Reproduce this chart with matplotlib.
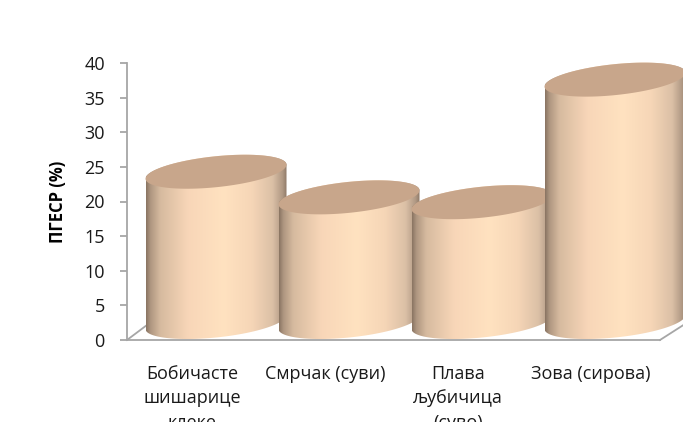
import numpy as np
import matplotlib
matplotlib.use('Agg')
import matplotlib.pyplot as plt
from matplotlib.colors import LinearSegmentedColormap
from matplotlib.patches import Polygon

plt.rcParams['font.family'] = ['Open Sans', 'DejaVu Sans']

categories = ['Бобичасте\nшишарице\nклеке', 'Смрчак (суви)', 'Плава\nљубичица\n(суво)', 'Зова (сирова)']
values = [21.7, 18.0, 17.3, 35.0]
y_ticks = [0, 5, 10, 15, 20, 25, 30, 35, 40]

W, H = 683, 422
# 0 of the axis at y=340px, 40 at y=63px, first bar centre at x=216px, spacing 133px
px_x = 133.0
px_y = (340 - 63) / 40.0
left, right = 127, 660

fig = plt.figure(figsize=(W / 100, H / 100), dpi=100)
ax = fig.add_axes([left / W, (H - 340) / H, (right - left) / W, (340 - 63) / H])
ax.set_xlim((left - 216) / px_x, (right - 216) / px_x)
ax.set_ylim(0, 40)

shade = LinearSegmentedColormap.from_list('shade', [
    (0.0, '#8a7563'), (0.03, '#ae9680'), (0.1, '#d6ba9f'), (0.3, '#f8d6b8'),
    (0.55, '#ffe2c0'), (0.75, '#f6d6b7'), (0.9, '#dbc0a6'), (0.97, '#b09984'), (1.0, '#8f7a68')])
grad = np.linspace(0, 1, 256).reshape(1, -1)

half_w = 70.5 / px_x
minor = 15.5 / px_y
tilt = 7.0 / px_y
base = 18.0 / px_y  # floor depth of the bar centres


def ring(cx, cy, t):
    return cx + half_w * np.cos(t), cy + minor * np.sin(t) + tilt * np.cos(t)


for i, v in enumerate(values):
    z = 3 + i * 3
    cy0, cy1 = base, base + v
    xb, yb = ring(i, cy0, np.linspace(np.pi, 2 * np.pi, 80))
    xt, yt = ring(i, cy1, np.linspace(0, np.pi, 80))
    body = Polygon(np.column_stack([np.r_[xb, xt], np.r_[yb, yt]]), closed=True,
                   fc='none', ec='none', transform=ax.transData, clip_on=False)
    ax.add_patch(body)
    im = ax.imshow(grad, cmap=shade, aspect='auto', zorder=z,
                   extent=(i - half_w, i + half_w, -5, 45))
    im.set_clip_path(body)
    im.set_clip_box(fig.bbox)
    xc, yc = ring(i, cy1, np.linspace(0, 2 * np.pi, 160))
    cap = Polygon(np.column_stack([xc, yc]), closed=True, fc='#c8a68b', ec='none',
                  zorder=z + 1, clip_on=False)
    ax.add_patch(cap)

ax.set_xlim((left - 216) / px_x, (right - 216) / px_x)
ax.set_ylim(0, 40)

for s in ['top', 'right']:
    ax.spines[s].set_visible(False)
for s in ['left', 'bottom']:
    ax.spines[s].set_color('#a6a6a6')
    ax.spines[s].set_linewidth(1.3)

# floor edges of the 3D box
ax.plot([-89 / px_x, -69 / px_x], [0, 15 / px_y], color='#a6a6a6', lw=1.3, clip_on=False, zorder=2)
ax.plot([(right - 216) / px_x, (W + 2 - 216) / px_x], [0, 16 / px_y], color='#a6a6a6', lw=1.3,
        clip_on=False, zorder=2)

ax.set_yticks(y_ticks)
ax.tick_params(axis='y', length=5, width=1.3, color='#a6a6a6', labelsize=13, pad=11, labelcolor='#1a1a1a')
# labels sit left of the bar centres because of the 3D view
ax.set_xticks([i - 24 / px_x for i in range(len(categories))])
ax.set_xticklabels(categories, fontsize=13, linespacing=1.45, color='#1a1a1a')
ax.tick_params(axis='x', length=0, pad=18)

fig.text(58 / W, 1 - 202 / H, 'ПГЕСР (%)', rotation=90, fontsize=12, fontweight='bold',
         ha='center', va='center', color='black')

fig.savefig('out.png', dpi=100)
